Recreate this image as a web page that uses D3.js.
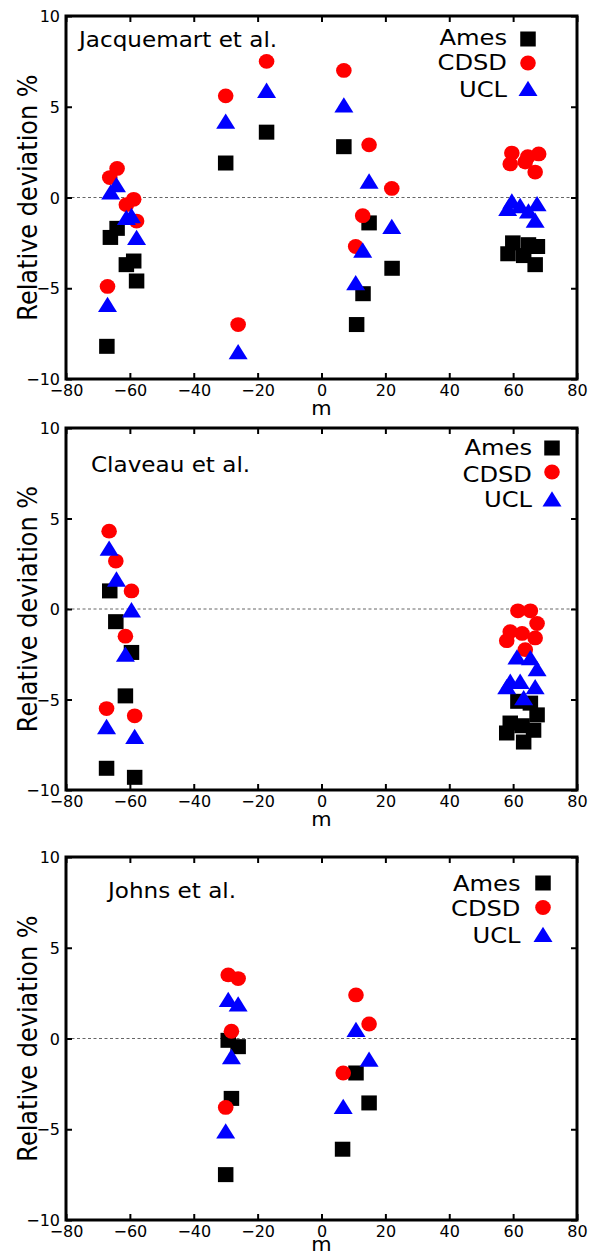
<!DOCTYPE html>
<html><head><meta charset="utf-8">
<script src="https://cdn.jsdelivr.net/npm/d3@7"></script>
<style>body{margin:0;background:#fff}svg{display:block}text{font-family:"DejaVu Sans",sans-serif;fill:#000}</style>
</head><body><div id="chart"></div>
<script>
// ---------- data ----------
const xTickValues = [-80, -60, -40, -20, 0, 20, 40, 60, 80];
const yTickValues = [-10, -5, 0, 5, 10];
const seriesNames = ["Ames", "CDSD", "UCL"];
const panelTitles = ["Jacquemart et al.", "Claveau et al.", "Johns et al."];
const xLabel = "m";
const yLabel = "Relative deviation %";

// Panel 1: Jacquemart et al.
const jacqAmesM = [-67.2, -66.1, -64.0, -61.1, -58.8, -57.9, -30.0, -17.2, 7.0, 14.9, 13.0, 11.0, 22.1, 58.4, 59.9, 63.3, 64.8, 66.9, 67.6];
const jacqAmes  = [-8.2, -2.2, -1.7, -3.7, -3.5, -4.6, 1.9, 3.6, 2.8, -1.4, -5.3, -7.0, -3.9, -3.1, -2.5, -3.2, -2.6, -3.7, -2.7];
const jacqCdsdM = [-67.0, -66.3, -64.0, -61.1, -58.8, -57.9, -30.0, -26.1, -17.2, 7.0, 14.9, 22.0, 12.9, 10.7, 59.1, 59.6, 63.8, 64.6, 66.9, 68.0];
const jacqCdsd  = [-4.9, 1.1, 1.6, -0.4, -0.1, -1.3, 5.6, -7.0, 7.5, 7.0, 2.9, 0.5, -1.0, -2.7, 1.85, 2.45, 1.95, 2.25, 1.4, 2.4];
const jacqUclM  = [-67.0, -66.0, -64.2, -61.1, -59.5, -57.9, -30.0, -26.1, -17.2, 7.0, 14.9, 22.0, 12.9, 10.7, 58.3, 59.6, 62.2, 64.8, 66.9, 67.5];
const jacqUcl   = [-5.9, 0.3, 0.7, -1.1, -1.0, -2.2, 4.2, -8.5, 5.9, 5.1, 0.9, -1.6, -2.9, -4.7, -0.6, -0.2, -0.45, -0.75, -1.25, -0.35];

// Panel 2: Claveau et al.
const clavAmesM = [-66.3, -64.4, -59.5, -61.4, -67.3, -58.5, 61.5, 65.4, 67.5, 59.1, 58.0, 62.8, 66.4, 63.3];
const clavAmes  = [1.0, -0.7, -2.4, -4.8, -8.8, -9.3, -5.1, -5.2, -5.85, -6.3, -6.85, -6.45, -6.7, -7.35];
const clavCdsdM = [-66.5, -64.4, -59.5, -61.4, -67.3, -58.5, 61.5, 65.4, 67.5, 59.1, 58.0, 62.8, 66.9, 63.8];
const clavCdsd  = [4.3, 2.65, 1.0, -1.5, -5.5, -5.9, -0.1, -0.1, -0.8, -1.25, -1.75, -1.35, -1.6, -2.25];
const clavUclM  = [-66.5, -64.2, -59.5, -61.4, -67.3, -58.5, 61.2, 65.4, 67.5, 59.1, 58.0, 62.2, 66.9, 63.3];
const clavUcl   = [3.35, 1.65, -0.05, -2.5, -6.5, -7.05, -2.65, -2.7, -3.3, -4.0, -4.3, -4.0, -4.3, -4.9];

// Panel 3: Johns et al.
const johnAmesM = [-29.2, -26.1, -28.2, -30.0, 10.8, 14.9, 6.6];
const johnAmes  = [-0.1, -0.45, -3.3, -7.5, -1.9, -3.55, -6.1];
const johnCdsdM = [-29.2, -26.1, -28.2, -30.0, 10.8, 14.9, 6.8];
const johnCdsd  = [3.5, 3.3, 0.4, -3.8, 2.4, 0.8, -1.9];
const johnUclM  = [-29.2, -26.1, -28.2, -30.0, 10.8, 14.9, 6.8];
const johnUcl   = [2.15, 1.9, -1.0, -5.1, 0.5, -1.15, -3.75];

// ---------- layout ----------
const W = 602, H = 1256;
const colors = ["#000000", "#ff0000", "#0000ff"];
const left = 66, right = 577;
const panels = [
  {title: panelTitles[0], top: 16, bottom: 379, titleX: 79, titleY: 47, mY: 415,
   legX: 507, legMX: 528, legY: [39, 63, 88.5], legTY: [44.5, 70, 96.5],
   series: [[jacqAmesM, jacqAmes], [jacqCdsdM, jacqCdsd], [jacqUclM, jacqUcl]]},
  {title: panelTitles[1], top: 428, bottom: 790, titleX: 91, titleY: 472, mY: 826,
   legX: 532, legMX: 552, legY: [448, 472, 499], legTY: [455, 482, 507],
   series: [[clavAmesM, clavAmes], [clavCdsdM, clavCdsd], [clavUclM, clavUcl]]},
  {title: panelTitles[2], top: 857, bottom: 1220, titleX: 108, titleY: 898, mY: 1251,
   legX: 520.5, legMX: 543, legY: [883, 907.5, 934.5], legTY: [890.5, 916, 942.5],
   series: [[johnAmesM, johnAmes], [johnCdsdM, johnCdsd], [johnUclM, johnUcl]]}
];
const SX = 1.1; // horizontal stretch of text in the reference

const svg = d3.select("#chart").append("svg").attr("width", W).attr("height", H);

function drawMarker(g, type, cx, cy, color) {
  if (type === 0) {
    g.append("rect").attr("x", cx - 7.75).attr("y", cy - 7.5).attr("width", 15.5).attr("height", 15).attr("fill", color);
  } else if (type === 1) {
    g.append("ellipse").attr("cx", cx).attr("cy", cy).attr("rx", 7.8).attr("ry", 7.4).attr("fill", color);
  } else {
    g.append("path").attr("d", `M${cx - 9.5},${cy + 7.5}L${cx + 9.5},${cy + 7.5}L${cx},${cy - 7.8}Z`).attr("fill", color);
  }
}

panels.forEach(p => {
  const x = d3.scaleLinear().domain([-80, 80]).range([left, right]);
  const y = d3.scaleLinear().domain([-10, 10]).range([p.bottom, p.top]);
  const g = svg.append("g");

  // zero dashed line
  g.append("line").attr("x1", x(-80)).attr("x2", x(80)).attr("y1", y(0)).attr("y2", y(0))
    .attr("stroke", "#666").attr("stroke-width", 1).attr("stroke-dasharray", "3,2.5");

  // axes with inward ticks on all four sides
  const xb = g.append("g").attr("transform", `translate(0,${p.bottom})`)
    .call(d3.axisBottom(x).tickValues(xTickValues).tickSize(-6).tickPadding(9).tickFormat(d3.format("d")));
  const xt = g.append("g").attr("transform", `translate(0,${p.top})`)
    .call(d3.axisTop(x).tickValues(xTickValues).tickSize(-6).tickFormat(""));
  const yl = g.append("g").attr("transform", `translate(${left},0)`)
    .call(d3.axisLeft(y).tickValues(yTickValues).tickSize(-6).tickPadding(9).tickFormat(d3.format("d")));
  const yr = g.append("g").attr("transform", `translate(${right},0)`)
    .call(d3.axisRight(y).tickValues(yTickValues).tickSize(-6).tickFormat(""));
  [xb, xt, yl, yr].forEach(a => {
    a.select(".domain").remove();
    a.selectAll(".tick line").attr("stroke", "#000").attr("stroke-width", 2);
    a.selectAll("text").style("font-family", '"DejaVu Sans",sans-serif').style("font-size", "16px").attr("fill", "#000");
  });
  xb.selectAll("text").attr("dy", "0.71em").attr("y", 6);
  yl.selectAll("text").attr("x", -6).attr("dy", "0.35em");

  // frame
  g.append("rect").attr("x", left).attr("y", p.top).attr("width", right - left).attr("height", p.bottom - p.top)
    .attr("fill", "none").attr("stroke", "#000").attr("stroke-width", 3);

  // axis titles
  g.append("text").attr("transform", `translate(${(left + right) / 2},${p.mY}) scale(${SX},1)`)
    .attr("text-anchor", "middle").style("font-size", "19px").text(xLabel);
  g.append("text").attr("transform", `translate(37,${(p.top + p.bottom) / 2}) scale(${SX},1) rotate(-90)`)
    .attr("text-anchor", "middle").style("font-size", "24px").text(yLabel);

  // panel title
  g.append("text").attr("transform", `translate(${p.titleX},${p.titleY}) scale(${SX},1)`)
    .style("font-size", "21px").text(p.title);

  // data points (drawn in legend order)
  p.series.forEach((s, si) => {
    const sg = g.append("g");
    s[0].forEach((m, i) => drawMarker(sg, si, x(m), y(s[1][i]), colors[si]));
  });

  // legend
  seriesNames.forEach((name, si) => {
    g.append("text").attr("transform", `translate(${p.legX},${p.legTY[si]}) scale(${SX},1)`)
      .attr("text-anchor", "end").style("font-size", "22px").text(name);
    drawMarker(g, si, p.legMX, p.legY[si], colors[si]);
  });
});
</script></body></html>
